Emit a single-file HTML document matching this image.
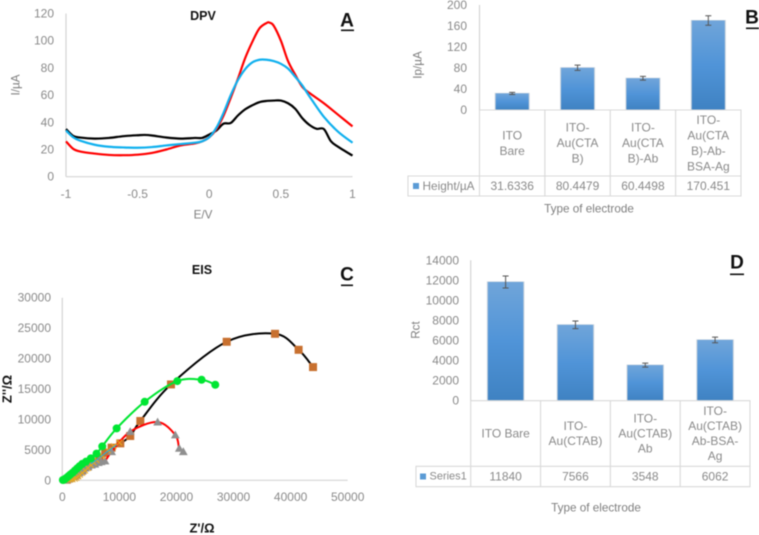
<!DOCTYPE html>
<html lang="en">
<head>
<meta charset="utf-8">
<title>DPV and EIS electrode charts</title>
<style>
html,body{margin:0;padding:0;background:#fff;width:759px;height:535px;overflow:hidden}
svg{display:block;filter:blur(0.4px)}
text{font-family:"Liberation Sans",sans-serif;dominant-baseline:central}
.tick{fill:#8a8a8a;font-size:12px}
.title{fill:#7f7f7f;font-size:11.7px}
.bold{fill:#111;font-size:12.5px;font-weight:bold}
.panel{fill:#111;font-size:19px;font-weight:bold;text-anchor:middle}
</style>
</head>
<body>
<svg id="fig" xmlns="http://www.w3.org/2000/svg" width="759" height="535" viewBox="0 0 759 535">
<defs>
<linearGradient id="barFill" x1="0" y1="0" x2="0" y2="1">
<stop offset="0" stop-color="#70a5da"/><stop offset="0.5" stop-color="#5094d8"/><stop offset="1" stop-color="#3f82c2"/>
</linearGradient>
</defs>
<text class="bold" x="203" y="16" text-anchor="middle">DPV</text>
<text class="panel" x="347" y="21">A</text>
<rect x="341" y="29.5" width="13" height="1.6" fill="#111"/>
<text class="title" x="203" y="215" text-anchor="middle">E/V</text>
<text class="title" x="16" y="85" text-anchor="middle" transform="rotate(-90 16 85)">I/µA</text>

<text class="panel" x="752" y="18">B</text>
<rect x="746" y="27.5" width="13" height="1.6" fill="#111"/>
<text class="title" x="589" y="209" text-anchor="middle">Type of electrode</text>
<text class="title" x="418" y="65" text-anchor="middle" transform="rotate(-90 418 65)">Ip/µA</text>

<text class="bold" x="202" y="270" text-anchor="middle">EIS</text>
<text class="panel" x="347" y="275">C</text>
<rect x="341" y="284.5" width="12" height="1.6" fill="#111"/>
<text class="bold" x="202" y="528" text-anchor="middle" style="font-size:13px">Z'/Ω</text>
<text class="bold" x="7" y="389" text-anchor="middle" transform="rotate(-90 7 389)" style="font-size:13px">Z''/Ω</text>

<text class="panel" x="737" y="263">D</text>
<rect x="730" y="273.5" width="14" height="1.6" fill="#111"/>
<text class="title" x="596" y="508" text-anchor="middle">Type of electrode</text>
<text class="title" x="416" y="330" text-anchor="middle" transform="rotate(-90 416 330)">Rct</text>
</svg>

<script>
// ---- Panel A data ----
const dpvRedE = [-1,-0.95,-0.9,-0.8,-0.7,-0.6,-0.5,-0.4,-0.3,-0.2,-0.1,-0.05,0,0.05,0.1,0.15,0.2,0.25,0.3,0.35,0.4,0.42,0.45,0.5,0.55,0.6,0.65,0.7,0.8,0.9,1];
const dpvRedI = [26,20.5,18.5,17,16,15.8,16.2,17.5,20,23,24.5,26,29,35,45,58,72,87,99,109,113,113.3,111,100,85,75,66,61.5,54,45.5,37];
const dpvBlueE = [-1,-0.95,-0.9,-0.8,-0.7,-0.6,-0.5,-0.4,-0.3,-0.2,-0.1,-0.05,0,0.05,0.1,0.15,0.2,0.25,0.3,0.35,0.4,0.45,0.5,0.55,0.6,0.65,0.7,0.8,0.9,1];
const dpvBlueI = [34,29,26.5,23.5,22,21.5,21.3,21.8,23,24,25,26,29,36,47,60,71,79,84,86,86,85,83,79.5,73.5,67,59,44,33,25];
const dpvBlackE = [-1,-0.95,-0.9,-0.8,-0.7,-0.6,-0.5,-0.45,-0.4,-0.3,-0.2,-0.1,-0.05,0,0.05,0.1,0.15,0.2,0.25,0.3,0.35,0.4,0.45,0.5,0.55,0.6,0.65,0.7,0.75,0.8,0.85,0.9,1];
const dpvBlackI = [35,30,28.8,28,28.5,29.8,30.5,30.7,30.3,28.8,28,28.5,28.5,31,34,39,39.5,45,49.5,52.5,54.8,55.7,56,56,54,50,43,38,35.2,35,26,22,15.5];
const dpvXTicks = [-1,-0.5,0,0.5,1];
const dpvYTicks = [0,20,40,60,80,100,120];

// ---- Panel B data ----
const heightCategories = [["ITO","Bare"],["ITO-","Au(CTA","B)"],["ITO-","Au(CTA","B)-Ab"],["ITO-","Au(CTA","B)-Ab-","BSA-Ag"]];
const heightValues = [31.6336,80.4479,60.4498,170.451];
const heightLabels = ["31.6336","80.4479","60.4498","170.451"];
const heightErrors = [2,5,3.5,9];
const heightYTicks = [0,40,80,120,160,200];

// ---- Panel C data ----
const squareZr = [43925,41400,37270,28800,19040,13670,11900,10160,8640,7500,6500,5500,4500,3500,2500,1500,800];
const squareZi = [18600,21440,24070,22760,15750,9740,7280,6070,5360,4500,3700,3000,2300,1600,900,400,100];
const circleZr = [26800,24400,20150,14430,9520,7000,6000,5000,4150,3500,3000,2600,2200,1800,1400,1100,800,500,300,100];
const circleZi = [15700,16520,16300,12900,8530,5580,4380,3600,3060,2700,2300,1950,1600,1250,950,700,450,250,100,50];
const triangleZr = [21200,20500,19800,16700,11900,8640,7480,6800,6300,5700,5100,4500,4000,3500,3000,2500,2000,1500,1000,500];
const triangleZi = [4700,5250,7440,9570,8000,4700,3170,3050,2900,2650,2500,2200,2000,1600,1250,900,600,350,150,50];
const crossZr = [1000,1400,1800,2200,2500,2800,3100,3500,4000,4500,5000,5500,6000,7000,8000,9000,10000];
const crossZi = [50,100,150,250,400,650,900,1200,1600,2000,2500,2900,3300,4000,4900,5600,6200];
const thinBlueZr = [5000,6500,8000,9500];
const thinBlueZi = [2700,3700,4800,5800];
const eisXTicks = [0,10000,20000,30000,40000,50000];
const eisYTicks = [0,5000,10000,15000,20000,25000,30000];

// ---- Panel D data ----
const rctCategories = [["ITO Bare"],["ITO-","Au(CTAB)"],["ITO-","Au(CTAB)","Ab"],["ITO-","Au(CTAB)","Ab-BSA-","Ag"]];
const rctValues = [11840,7566,3548,6062];
const rctLabels = ["11840","7566","3548","6062"];
const rctErrors = [600,380,200,280];
const rctYTicks = [0,2000,4000,6000,8000,10000,12000,14000];

const svg = document.getElementById('fig');
const NS = 'http://www.w3.org/2000/svg';
function mk(tag, attrs){
  const el = document.createElementNS(NS, tag);
  for(const k in attrs) el.setAttribute(k, attrs[k]);
  svg.appendChild(el);
  return el;
}
function linear(d0,d1,r0,r1){ return v => r0 + (v-d0)/(d1-d0)*(r1-r0); }
function smooth(xs, ys, sx, sy){
  const p = xs.map((x,i)=>[sx(x), sy(ys[i])]);
  let d = 'M'+p[0][0].toFixed(2)+' '+p[0][1].toFixed(2);
  for(let i=0;i<p.length-1;i++){
    const a=p[Math.max(i-1,0)], b=p[i], c=p[i+1], e=p[Math.min(i+2,p.length-1)];
    const c1=[b[0]+(c[0]-a[0])/6, b[1]+(c[1]-a[1])/6];
    const c2=[c[0]-(e[0]-b[0])/6, c[1]-(e[1]-b[1])/6];
    d+=' C'+c1[0].toFixed(2)+' '+c1[1].toFixed(2)+' '+c2[0].toFixed(2)+' '+c2[1].toFixed(2)+' '+c[0].toFixed(2)+' '+c[1].toFixed(2);
  }
  return d;
}
function yAxis(ticks, sy, axisX, labelX, x2){
  ticks.forEach(t=>{
    const el = mk('text',{class:'tick',x:labelX,y:sy(t),'text-anchor':'end'});
    el.textContent = t;
    
    
  });
  const line = mk('line',{x1:axisX,x2:axisX,y1:sy(ticks[ticks.length-1]),y2:sy(ticks[0]),stroke:'#d4d4d4','stroke-width':1.2});
  
  
}
function xAxis(ticks, sx, axisY, labelY, x1, x2){
  const line = mk('line',{x1:x1,x2:x2,y1:axisY,y2:axisY,stroke:'#d4d4d4','stroke-width':1.2});
  
  
  ticks.forEach(t=>{
    const el = mk('text',{class:'tick',x:sx(t),y:labelY,'text-anchor':'middle'});
    el.textContent = t;
    
    
  });
}

// ---- Panel A ----
const ax = linear(-1,1,66,352.5), ay = linear(0,120,176.7,13.5);
yAxis(dpvYTicks, ay, 66, 54);
xAxis(dpvXTicks, ax, 176.7, 194, 66, 352.5);
[[dpvBlackE,dpvBlackI,'#000000'],[dpvRedE,dpvRedI,'#ff0000'],[dpvBlueE,dpvBlueI,'#10b0ee']].forEach(s=>{
  const el = mk('path',{d:smooth(s[0],s[1],ax,ay),fill:'none',stroke:s[2],'stroke-width':2.2,'stroke-linejoin':'round'});
  
  
});

// ---- Bar + data-table panels ----
function barPanel(cfg){
  const sy = linear(0,cfg.yMax,cfg.y0,cfg.yTop);
  const n = cfg.cats.length;
  const cw = (cfg.xEnd-cfg.x0)/n;
  yAxis(cfg.ticks, sy, cfg.x0, cfg.labelX);
  cfg.vals.forEach((v,i)=>{
    const cx = cfg.x0+cw*(i+0.5);
    const halo = mk('rect',{x:cx-cfg.barW/2-1,y:sy(v)-0.5,width:cfg.barW+2,height:cfg.y0-sy(v)+0.5,fill:'#c9d3dd'});
    
    
    const bar = mk('rect',{x:cx-cfg.barW/2,y:sy(v),width:cfg.barW,height:cfg.y0-sy(v),fill:'url(#barFill)'});
    
    
    const hi = sy(v+cfg.errs[i]), lo = sy(v-cfg.errs[i]);
    const err = mk('path',{d:`M${cx} ${hi}V${lo}M${cx-3} ${hi}H${cx+3}M${cx-3} ${lo}H${cx+3}`,fill:'none',stroke:'#555','stroke-width':1});
    
    
    const lines = cfg.cats[i];
    const mid = (cfg.y0+cfg.catBottom)/2;
    lines.forEach((t,j)=>{
      const el = mk('text',{class:'tick',x:cx,y:mid+(j-(lines.length-1)/2)*cfg.lh,'text-anchor':'middle'});
      el.textContent = t;
      
      
    });
    const val = mk('text',{class:'tick',x:cx,y:(cfg.catBottom+cfg.tblBottom)/2,'text-anchor':'middle'});
    val.textContent = cfg.labels[i];
    
    
  });
  let d = `M${cfg.x0} ${cfg.y0}H${cfg.xEnd}V${cfg.tblBottom}H${cfg.tblLeft}V${cfg.catBottom}H${cfg.xEnd}M${cfg.x0} ${cfg.y0}V${cfg.tblBottom}`;
  for(let i=1;i<n;i++){ d+=`M${cfg.x0+cw*i} ${cfg.y0}V${cfg.tblBottom}`; }
  const grid = mk('path',{d:d,fill:'none',stroke:'#d9d9d9','stroke-width':1.1});
  
  
  const rowY = (cfg.catBottom+cfg.tblBottom)/2;
  const key = mk('rect',{x:cfg.keyX,y:rowY-3,width:6,height:6,fill:'#5b9bd5'});
  
  
  const lab = mk('text',{class:'tick',x:cfg.keyX+9.5,y:rowY,style:'font-size:'+cfg.keyFont+'px'});
  lab.textContent = cfg.series;
  
  
}
barPanel({cats:heightCategories,vals:heightValues,labels:heightLabels,errs:heightErrors,ticks:heightYTicks,yMax:200,
  x0:479.5,xEnd:741,y0:110,yTop:5,catBottom:176,tblBottom:196,tblLeft:408,labelX:467,barW:33,lh:15.5,keyX:413,keyFont:11.8,series:'Height/µA'});
barPanel({cats:rctCategories,vals:rctValues,labels:rctLabels,errs:rctErrors,ticks:rctYTicks,yMax:14000,
  x0:470.7,xEnd:750,y0:400.7,yTop:260.3,catBottom:466.3,tblBottom:486.7,tblLeft:416,labelX:459,barW:35.5,lh:15,keyX:420,keyFont:11,series:'Series1'});

// ---- Panel C ----
const cx = linear(0,50000,62.3,347.7), cy = linear(0,30000,480.3,297.7);
yAxis(eisYTicks, cy, 62.3, 51);
xAxis(eisXTicks, cx, 480.3, 497, 62.3, 347.7);
function curve(xs,ys,color,w){
  const el = mk('path',{d:smooth(xs,ys,cx,cy),fill:'none',stroke:color,'stroke-width':w});
  
  
}
curve(squareZr,squareZi,'#000000',2);
squareZr.forEach((x,i)=>{
  const px=cx(x), py=cy(squareZi[i]);
  const m = mk('rect',{x:px-4,y:py-4,width:8,height:8,fill:'#c8702f'});
  
  
});
curve(triangleZr,triangleZi,'#ff0000',2);
triangleZr.forEach((x,i)=>{
  const px=cx(x), py=cy(triangleZi[i]);
  const m = mk('path',{d:`M${px} ${py-4.4}L${px+4.4} ${py+3.4}L${px-4.4} ${py+3.4}Z`,fill:'#8f8f8f'});
  
  
});
crossZr.forEach((x,i)=>{
  const px=cx(x), py=cy(crossZi[i]);
  const m = mk('path',{d:`M${px-2.8} ${py-2.8}L${px+2.8} ${py+2.8}M${px-2.8} ${py+2.8}L${px+2.8} ${py-2.8}`,stroke:'#eaa91c','stroke-width':1,fill:'none'});
  
  
});
curve(thinBlueZr,thinBlueZi,'#10b0ee',1);
curve(circleZr,circleZi,'#00e632',2);
circleZr.forEach((x,i)=>{
  const m = mk('circle',{cx:cx(x),cy:cy(circleZi[i]),r:4,fill:'#00e632'});
  
  
});
</script>
</body>
</html>
